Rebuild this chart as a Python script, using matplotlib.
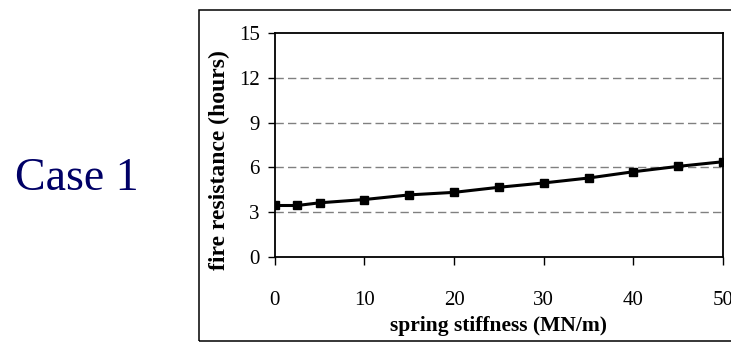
import numpy as np
import matplotlib.pyplot as plt
from matplotlib.patches import Rectangle

# data
stiffness = [0, 2.5, 5, 10, 15, 20, 25, 30, 35, 40, 45, 50]
fire_res = [3.45, 3.45, 3.63, 3.85, 4.16, 4.33, 4.67, 4.96, 5.29, 5.71, 6.07, 6.38]
xticks = [0, 10, 20, 30, 40, 50]
yticks = [0, 3, 6, 9, 12, 15]

plt.rcParams['font.family'] = ['Liberation Serif', 'DejaVu Serif']

fig = plt.figure(figsize=(7.31, 3.43), dpi=100)

# outer box around the chart (runs off the right edge)
fig.patches.append(Rectangle((0.272, 0.006), 0.75, 0.965, transform=fig.transFigure,
                             fill=False, edgecolor='black', linewidth=1.1))

fig.text(0.105, 0.478, "Case 1", fontsize=33, color='#000066', ha='center', va='center')

ax = fig.add_axes([0.376, 0.2507, 0.613, 0.653])
ax.plot(stiffness, fire_res, color='black', linewidth=2.2, marker='s', markersize=6)

ax.set_xlim(0, 50)
ax.set_ylim(0, 15)
ax.set_xticks(xticks)
ax.set_yticks(yticks)
for y in yticks[1:-1]:
    ax.axhline(y, color='#808080', linewidth=1, linestyle=(0, (6, 3)), zorder=0)

ax.tick_params(axis='both', direction='out', width=1, labelsize=15)
ax.tick_params(axis='x', length=5.5, pad=19)
ax.tick_params(axis='y', length=5, pad=6)
for s in ax.spines.values():
    s.set_linewidth(1.3)

ax.set_xlabel("spring stiffness (MN/m)", fontsize=15.5, fontweight='bold', labelpad=4)
ax.set_ylabel("fire resistance (hours)", fontsize=17, fontweight='bold', labelpad=6, y=0.435)

fig.savefig("out.png", dpi=100)
